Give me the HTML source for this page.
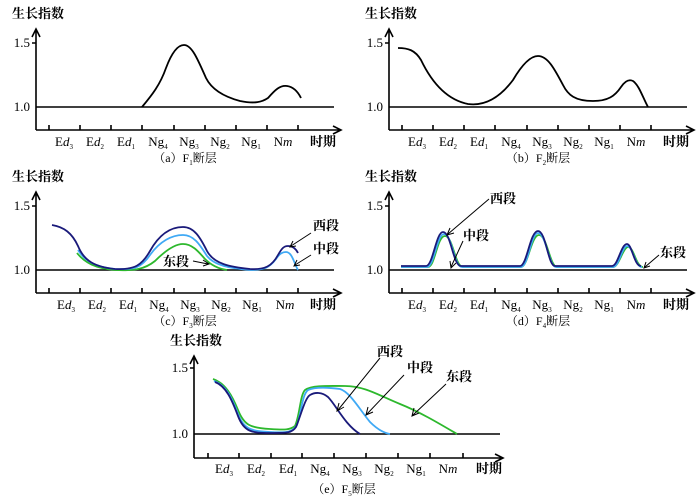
<!DOCTYPE html>
<html><head><meta charset="utf-8"><style>
html,body{margin:0;padding:0;background:#fff;}
svg{display:block;font-family:"Liberation Serif","Noto Serif CJK SC",serif;}
.ax{stroke:#000;stroke-width:1.6;fill:none}
.t{font-size:13px}
.cn{font-family:"Liberation Serif","Noto Serif CJK SC",serif;font-size:13px;font-weight:bold}
.cap{font-family:"Liberation Serif","Noto Serif CJK SC",serif;font-size:12px}
.c{fill:none;stroke-width:1.8}
</style></head><body>
<svg width="700" height="501" viewBox="0 0 700 501" xmlns="http://www.w3.org/2000/svg">

<!-- Panel a -->
<g transform="translate(0,0)">
<text class="cn" x="12" y="18">生长指数</text>
<path class="ax" d="M36,130 V30 M32,37 L36,29 L40,37 M36,130 H340 M333,126 L341,130 L333,134"/>
<path class="ax" d="M36,107 H334 M32,43 H36 M49,125V130 M80,125V130 M111,125V130 M142,125V130 M174,125V130 M205,125V130 M236,125V130 M267,125V130 M298,125V130"/>
<text class="t" x="30" y="47" text-anchor="end">1.5</text>
<text class="t" x="30" y="111" text-anchor="end">1.0</text>
<g class="t" text-anchor="middle">
<text x="64" y="146">E<tspan font-style="italic">d</tspan><tspan font-size="7" dy="3">3</tspan></text>
<text x="95" y="146">E<tspan font-style="italic">d</tspan><tspan font-size="7" dy="3">2</tspan></text>
<text x="126" y="146">E<tspan font-style="italic">d</tspan><tspan font-size="7" dy="3">1</tspan></text>
<text x="158" y="146">Ng<tspan font-size="7" dy="3">4</tspan></text>
<text x="189" y="146">Ng<tspan font-size="7" dy="3">3</tspan></text>
<text x="220" y="146">Ng<tspan font-size="7" dy="3">2</tspan></text>
<text x="251" y="146">Ng<tspan font-size="7" dy="3">1</tspan></text>
<text x="283" y="146">N<tspan font-style="italic">m</tspan></text>
</g>
<text class="cn" x="310" y="146" font-weight="normal">时期</text>
<text class="cap" x="185" y="162" text-anchor="middle">（a）F<tspan font-size="7" dy="3">1</tspan><tspan dy="-3">断层</tspan></text>
<path class="c" stroke="#000" d="M142,107 C152,95 160,85 166,68 C172,52 178,45 184,45 C192,45 198,60 206,78 C212,90 225,97 240,101 C255,104 262,102 268,98 C275,90 280,85 287,86 C294,87 298,92 301,98"/>
</g>

<!-- Panel b -->
<g transform="translate(353,0)">
<text class="cn" x="12" y="18">生长指数</text>
<path class="ax" d="M36,130 V30 M32,37 L36,29 L40,37 M36,130 H340 M333,126 L341,130 L333,134"/>
<path class="ax" d="M36,107 H334 M32,43 H36 M49,125V130 M80,125V130 M111,125V130 M142,125V130 M174,125V130 M205,125V130 M236,125V130 M267,125V130 M298,125V130"/>
<text class="t" x="30" y="47" text-anchor="end">1.5</text>
<text class="t" x="30" y="111" text-anchor="end">1.0</text>
<g class="t" text-anchor="middle">
<text x="64" y="146">E<tspan font-style="italic">d</tspan><tspan font-size="7" dy="3">3</tspan></text>
<text x="95" y="146">E<tspan font-style="italic">d</tspan><tspan font-size="7" dy="3">2</tspan></text>
<text x="126" y="146">E<tspan font-style="italic">d</tspan><tspan font-size="7" dy="3">1</tspan></text>
<text x="158" y="146">Ng<tspan font-size="7" dy="3">4</tspan></text>
<text x="189" y="146">Ng<tspan font-size="7" dy="3">3</tspan></text>
<text x="220" y="146">Ng<tspan font-size="7" dy="3">2</tspan></text>
<text x="251" y="146">Ng<tspan font-size="7" dy="3">1</tspan></text>
<text x="283" y="146">N<tspan font-style="italic">m</tspan></text>
</g>
<text class="cn" x="310" y="146" font-weight="normal">时期</text>
<text class="cap" x="185" y="162" text-anchor="middle">（b）F<tspan font-size="7" dy="3">2</tspan><tspan dy="-3">断层</tspan></text>
<path class="c" stroke="#000" d="M45,48 C55,48 62,50 68,60 C80,85 95,100 115,104 C130,106 145,100 160,80 C170,63 178,56 185,56 C195,56 202,70 210,85 C215,95 222,101 240,101 C255,101 262,96 268,87 C272,81 276,79 280,81 C286,85 290,98 295,107"/>
</g>

<!-- Panel c -->
<g transform="translate(0,163)">
<text class="cn" x="12" y="18">生长指数</text>
<path class="ax" d="M36,130 V30 M32,37 L36,29 L40,37 M36,130 H340 M333,126 L341,130 L333,134"/>
<path class="ax" d="M36,107 H334 M32,43 H36 M49,125V130 M80,125V130 M111,125V130 M142,125V130 M174,125V130 M205,125V130 M236,125V130 M267,125V130 M298,125V130"/>
<text class="t" x="30" y="47" text-anchor="end">1.5</text>
<text class="t" x="30" y="111" text-anchor="end">1.0</text>
<g class="t" text-anchor="middle">
<text x="66" y="146">E<tspan font-style="italic">d</tspan><tspan font-size="7" dy="3">3</tspan></text>
<text x="97" y="146">E<tspan font-style="italic">d</tspan><tspan font-size="7" dy="3">2</tspan></text>
<text x="128" y="146">E<tspan font-style="italic">d</tspan><tspan font-size="7" dy="3">1</tspan></text>
<text x="159" y="146">Ng<tspan font-size="7" dy="3">4</tspan></text>
<text x="190" y="146">Ng<tspan font-size="7" dy="3">3</tspan></text>
<text x="221" y="146">Ng<tspan font-size="7" dy="3">2</tspan></text>
<text x="252" y="146">Ng<tspan font-size="7" dy="3">1</tspan></text>
<text x="285" y="146">N<tspan font-style="italic">m</tspan></text>
</g>
<text class="cn" x="310" y="146" font-weight="normal">时期</text>
<text class="cap" x="185" y="162" text-anchor="middle">（c）F<tspan font-size="7" dy="3">3</tspan><tspan dy="-3">断层</tspan></text>
<path class="c" stroke="#2db82d" d="M77,90 C85,100 95,105 115,107 C135,108 145,106 155,98 C165,88 175,81 183,81 C192,81 198,88 205,96 C212,103 220,106 227,107"/>
<path class="c" stroke="#3fa9f5" d="M78,87 C85,98 95,104 115,106 C135,107 142,104 150,92 C160,78 172,72 183,72 C194,72 200,82 207,93 C215,103 230,105 250,107 C265,107 270,104 276,96 C280,90 283,89 286,89 C292,89 294,100 298,107"/>
<path class="c" stroke="#1a1a7a" d="M52,62 C64,64 72,70 78,83 C84,98 95,104 115,106 C135,107 142,102 150,88 C160,70 172,64 183,64 C194,64 200,74 207,88 C214,101 230,104 250,106 C265,107 272,103 278,92 C282,85 284,83 288,83 C293,83 296,86 298,90"/>
<text class="cn" x="163" y="103" font-weight="normal">东段</text>
<path stroke="#000" stroke-width="1" fill="none" d="M193,98 L208,101 M203,97 L209,101 L203,103"/>
<text class="cn" x="313" y="67" font-weight="normal">西段</text>
<text class="cn" x="313" y="90" font-weight="normal">中段</text>
<path stroke="#000" stroke-width="1" fill="none" d="M311,70 L291,83 M293,78 L290,84 L296,83 M311,92 L295,102 M297,97 L294,103 L300,102"/>
</g>

<!-- Panel d -->
<g transform="translate(353,163)">
<text class="cn" x="12" y="18">生长指数</text>
<path class="ax" d="M36,130 V30 M32,37 L36,29 L40,37 M36,130 H340 M333,126 L341,130 L333,134"/>
<path class="ax" d="M36,107 H334 M32,43 H36 M49,125V130 M80,125V130 M111,125V130 M142,125V130 M174,125V130 M205,125V130 M236,125V130 M267,125V130 M298,125V130"/>
<text class="t" x="30" y="47" text-anchor="end">1.5</text>
<text class="t" x="30" y="111" text-anchor="end">1.0</text>
<g class="t" text-anchor="middle">
<text x="64" y="146">E<tspan font-style="italic">d</tspan><tspan font-size="7" dy="3">3</tspan></text>
<text x="95" y="146">E<tspan font-style="italic">d</tspan><tspan font-size="7" dy="3">2</tspan></text>
<text x="126" y="146">E<tspan font-style="italic">d</tspan><tspan font-size="7" dy="3">1</tspan></text>
<text x="158" y="146">Ng<tspan font-size="7" dy="3">4</tspan></text>
<text x="189" y="146">Ng<tspan font-size="7" dy="3">3</tspan></text>
<text x="220" y="146">Ng<tspan font-size="7" dy="3">2</tspan></text>
<text x="251" y="146">Ng<tspan font-size="7" dy="3">1</tspan></text>
<text x="283" y="146">N<tspan font-style="italic">m</tspan></text>
</g>
<text class="cn" x="310" y="146" font-weight="normal">时期</text>
<text class="cap" x="185" y="162" text-anchor="middle">（d）F<tspan font-size="7" dy="3">4</tspan><tspan dy="-3">断层</tspan></text>
<path class="c" stroke="#2db82d" d="M48,104 H75 C82,104 84,73 92,73 C100,73 102,104 110,104 H168 C175,104 178,72 186,72 C194,72 197,104 204,104 H260 C266,104 270,84 275,84 C281,84 283,104 290,104"/>
<path class="c" stroke="#3fa9f5" d="M48,104 H74 C81,104 84,71 91,71 C99,71 101,104 109,104 H168 C175,104 178,70 185,70 C193,70 196,104 203,104 H260 C266,104 269,83 274,83 C280,83 282,104 289,104"/>
<path class="c" stroke="#1a1a7a" d="M48,103 H73 C80,103 83,69 90,69 C98,69 100,103 108,103 H167 C174,103 177,68 185,68 C193,68 195,103 202,103 H259 C265,103 268,81 274,81 C279,81 281,103 288,103"/>
<text class="cn" x="137" y="40" font-weight="normal">西段</text>
<path stroke="#000" stroke-width="1" fill="none" d="M136,36 L95,71 M97,65 L94,72 L101,70"/>
<text class="cn" x="110" y="77" font-weight="normal">中段</text>
<path stroke="#000" stroke-width="1" fill="none" d="M110,78 L98,104 M97,98 L98,105 L103,100"/>
<text class="cn" x="307" y="94" font-weight="normal">东段</text>
<path stroke="#000" stroke-width="1" fill="none" d="M306,92 L292,104 M293,99 L291,105 L297,103"/>
</g>

<!-- Panel e -->
<g transform="translate(159,327)">
<text class="cn" x="11" y="18">生长指数</text>
<path class="ax" d="M35,131 V30 M31,37 L35,29 L39,37 M35,131 H343 M336,127 L344,131 L336,135"/>
<path class="ax" d="M35,107 H341 M31,41 H35 M49,126V131 M80,126V131 M112,126V131 M143,126V131 M175,126V131 M207,126V131 M239,126V131 M271,126V131 M304,126V131"/>
<text class="t" x="29" y="45" text-anchor="end">1.5</text>
<text class="t" x="29" y="111" text-anchor="end">1.0</text>
<g class="t" text-anchor="middle">
<text x="65" y="146">E<tspan font-style="italic">d</tspan><tspan font-size="7" dy="3">3</tspan></text>
<text x="97" y="146">E<tspan font-style="italic">d</tspan><tspan font-size="7" dy="3">2</tspan></text>
<text x="129" y="146">E<tspan font-style="italic">d</tspan><tspan font-size="7" dy="3">1</tspan></text>
<text x="161" y="146">Ng<tspan font-size="7" dy="3">4</tspan></text>
<text x="193" y="146">Ng<tspan font-size="7" dy="3">3</tspan></text>
<text x="225" y="146">Ng<tspan font-size="7" dy="3">2</tspan></text>
<text x="257" y="146">Ng<tspan font-size="7" dy="3">1</tspan></text>
<text x="289" y="146">N<tspan font-style="italic">m</tspan></text>
</g>
<text class="cn" x="317" y="146" font-weight="normal">时期</text>
<text class="cap" x="185" y="166" text-anchor="middle">（e）F<tspan font-size="7" dy="3">5</tspan><tspan dy="-3">断层</tspan></text>
</g>
<path class="c" stroke="#2db82d" d="M213,379 C225,383 232,395 238,410 C244,425 250,428 270,429 C285,430 290,430 295,426 C300,415 300,395 305,390 C312,385 330,386 345,386 C365,386 380,396 400,404 C420,412 440,424 457,434"/>
<path class="c" stroke="#3fa9f5" d="M214,381 C226,385 232,398 238,414 C244,430 252,431 270,432 C288,433 293,432 297,425 C302,410 302,395 308,390 C315,387 325,387 340,389 C350,392 360,410 370,422 C378,430 384,433 390,434"/>
<path class="c" stroke="#1a1a7a" d="M215,382 C226,386 232,400 238,416 C244,432 252,433 270,433 C288,433 292,433 296,427 C301,415 305,398 310,395 C315,392 322,392 328,397 C336,405 345,425 360,434"/>
<text class="cn" x="377" y="356" font-weight="normal">西段</text>
<path stroke="#000" stroke-width="1" fill="none" d="M380,358 L338,410 M339,403 L337,411 L344,407"/>
<text class="cn" x="407" y="372" font-weight="normal">中段</text>
<path stroke="#000" stroke-width="1" fill="none" d="M404,375 L367,414 M368,407 L366,415 L373,412"/>
<text class="cn" x="446" y="381" font-weight="normal">东段</text>
<path stroke="#000" stroke-width="1" fill="none" d="M446,384 L413,415 M414,408 L412,416 L419,413"/>
</svg>
</body></html>
